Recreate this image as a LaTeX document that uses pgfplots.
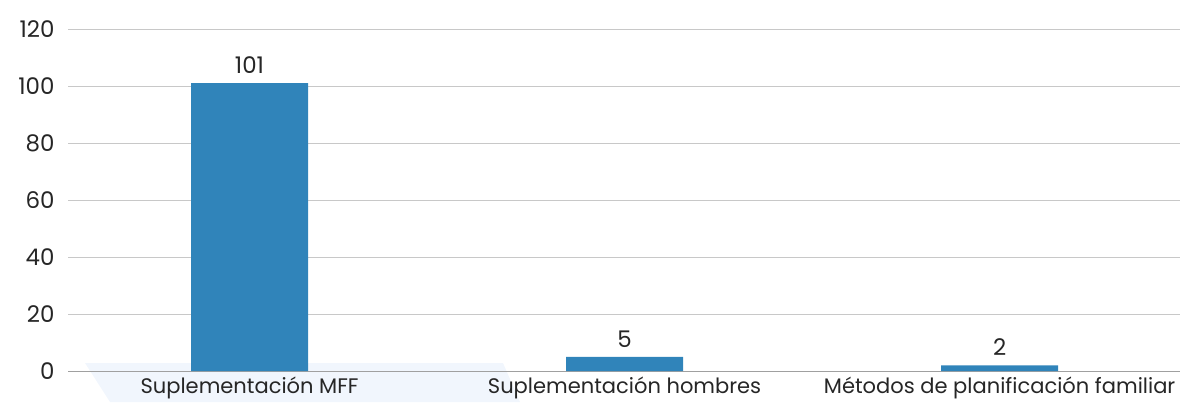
\documentclass[border=0pt]{standalone}
\usepackage{pgfplots}
\pgfplotsset{compat=1.18}
\usepackage{fontspec}
\setmainfont{Poppins}
\definecolor{barblue}{HTML}{3084BA}
\definecolor{txt}{HTML}{262626}
\definecolor{gridc}{HTML}{C8C8C8}
\definecolor{deco}{HTML}{F1F6FD}
\begin{document}
\begin{tikzpicture}[x=1bp,y=1bp]
\useasboundingbox (0,0) rectangle (1180,402);
\fill[deco] (85,39) -- (503,39) -- (520,0) -- (110,0) -- cycle;
\begin{axis}[
  at={(68bp,31bp)}, anchor=south west,
  scale only axis, width=1112bp, height=342bp,
  ymin=0, ymax=120, ytick={0,20,...,120},
  xmin=-0.484, xmax=2.481, xtick=data,
  xticklabels={Suplementación MFF, Suplementación hombres, Métodos de planificación familiar},
  axis x line*=bottom, axis y line*=left,
  y axis line style={draw=none},
  ymajorgrids, grid style={gridc, line width=0.8bp},
  x axis line style={gridc!80!black, line width=0.8bp},
  major tick length=0pt,
  ybar, bar width=117bp,
  xticklabel style={font=\fontsize{21.1}{22}\selectfont, text=txt, yshift=-2bp},
  yticklabel style={font=\fontsize{23}{24}\selectfont, text=txt, xshift=-10bp},
  /pgf/number format/assume math mode=true,
  nodes near coords,
  nodes near coords style={font=\fontsize{23}{24}\selectfont, text=txt, yshift=6bp},
  clip=false,
]
\addplot[fill=barblue, draw=none] coordinates {(0,101) (1,5) (2,2)};
\end{axis}
\end{tikzpicture}
\end{document}
